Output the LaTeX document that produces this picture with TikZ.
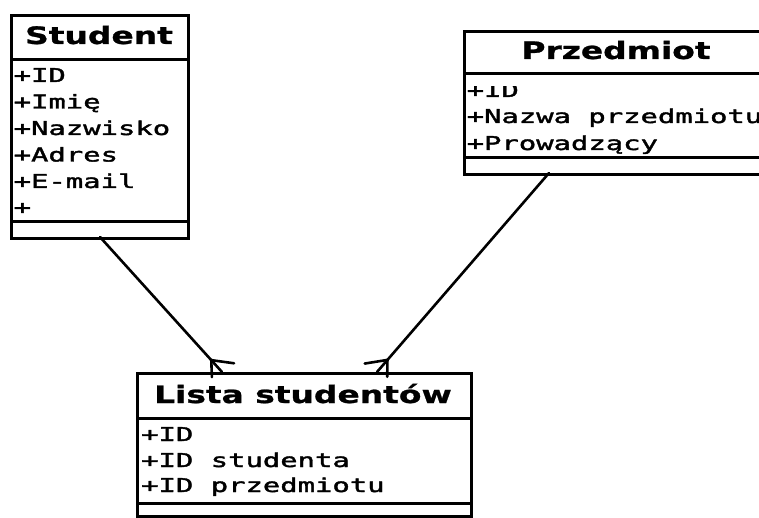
\documentclass[tikz,border=0pt]{standalone}
\usepackage{fontspec}
\setmainfont{DejaVu Sans}
\newfontfamily\titlefont{DejaVu Sans Bold}[FakeStretch=1.37, FakeBold=1]
\newfontfamily\attrfont{DejaVu Sans Mono}[FakeStretch=1.52, FakeBold=2]
\usetikzlibrary{calc}
\tikzset{
  box/.style={draw, line width=3pt, rectangle, inner sep=0pt, anchor=north west},
  sepline/.style={line width=3pt},
  title/.style={anchor=base, inner sep=0pt, font=\titlefont\fontsize{24}{24}\selectfont},
  attr/.style={anchor=base west, inner sep=0pt, font=\attrfont\fontsize{19}{19}\selectfont},
  link/.style={line width=2.6pt, line cap=round},
  barb/.style={line width=2.6pt, line cap=round}
}
\begin{document}
\begin{tikzpicture}[x=1pt,y=-1pt]
\useasboundingbox (0,0) rectangle (759,518);
\clip (0,0) rectangle (759,518);
\fill[white] (0,0) rectangle (759,518);
% Student
\node[box, minimum width=177pt, minimum height=223pt] (student) at (10,14) {};
\node[title] (studentT) at (99,44) {Student};
\node[attr] (s1) at (13.5,82) {+ID};
\node[attr] (s2) at (13.5,108.5) {+Imię};
\node[attr] (s3) at (13.5,135) {+Nazwisko};
\node[attr] (s4) at (13.5,161.5) {+Adres};
\node[attr] (s5) at (13.5,188) {+E-mail};
\node[attr] (s6) at (13.5,214) {+};
\draw[sepline] (10,60) -- (187,60);
\draw[sepline] (10,222) -- (187,222);
% Przedmiot
\begin{scope}
\clip (463,86.5) rectangle (769,100);
\node[attr] (p1) at (466.5,97) {+ID};
\end{scope}
\node[attr] (p2) at (466.5,123) {+Nazwa przedmiotu};
\node[attr] (p3) at (466.5,150) {+Prowadzący};
\node[box, minimum width=306pt, minimum height=143pt] (przedmiot) at (463,30) {};
\node[title] (przedmiotT) at (616,59) {Przedmiot};
\draw[sepline] (463,74) -- (769,74);
\draw[sepline] (463,158) -- (769,158);
% Lista
\node[box, minimum width=334pt, minimum height=143pt] (lista) at (136,372) {};
\node[title] (listaT) at (303,403) {Lista studentów};
\node[attr] (l1) at (141,441) {+ID};
\node[attr] (l2) at (141,467) {+ID studenta};
\node[attr] (l3) at (141,492) {+ID przedmiotu};
\draw[sepline] (136,418) -- (470,418);
\draw[sepline] (136,503) -- (470,503);
% connectors
\coordinate (sa) at (100,237);
\coordinate (la) at (222,372);
\coordinate (pa) at (549,173);
\coordinate (lb) at (377,372);
\draw[link] (sa) -- (la);
\draw[link] (pa) -- (lb);
\coordinate (ja) at ($(la)!16pt!(sa)$);
\coordinate (jb) at ($(lb)!16pt!(pa)$);
\draw[barb] ($(ja)!23pt!40:(la)$) -- (ja) -- ($(ja)!17pt!-40:(la)$);
\draw[barb] ($(jb)!23pt!-40:(lb)$) -- (jb) -- ($(jb)!17pt!40:(lb)$);
\end{tikzpicture}
\end{document}
